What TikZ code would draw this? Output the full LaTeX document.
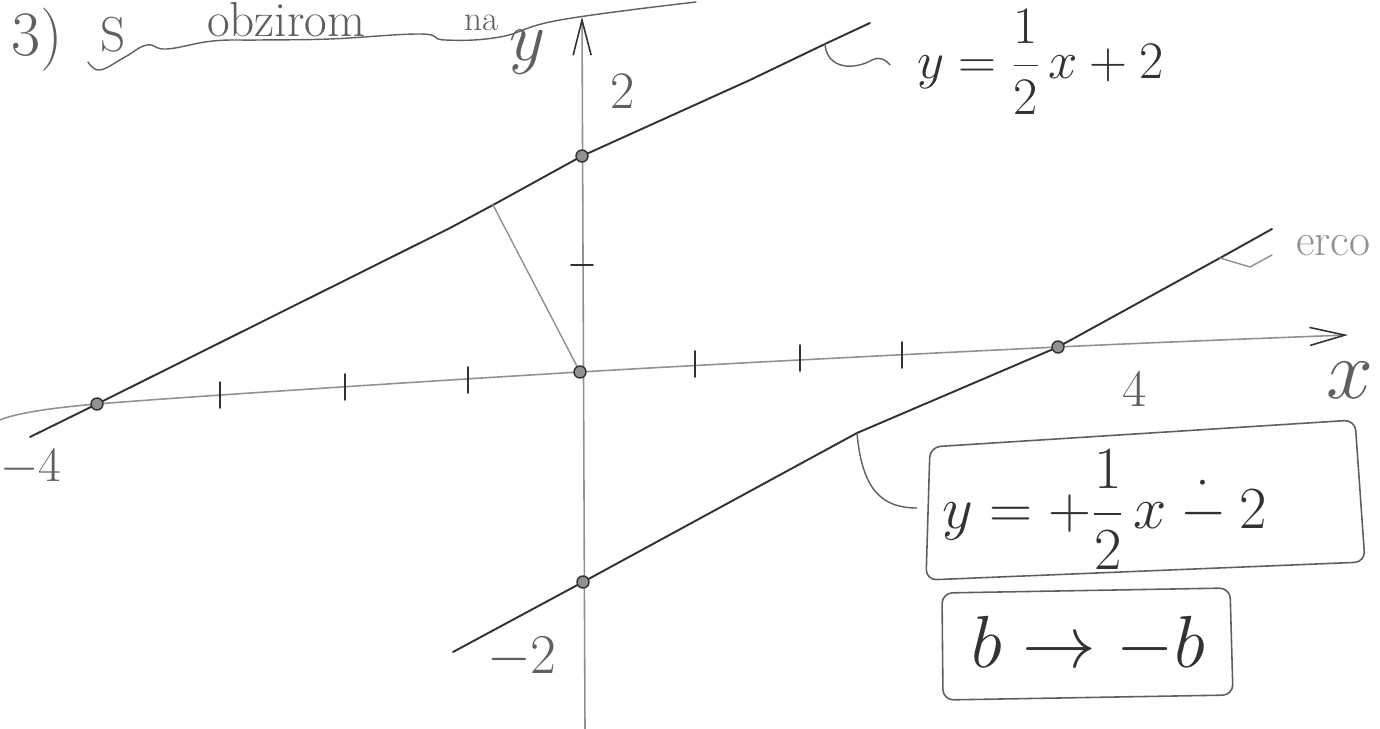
\documentclass[tikz,border=0pt]{standalone}
\usepackage{fix-cm}
\usepackage{amsmath}
\usetikzlibrary{arrows.meta}
\definecolor{inkD}{RGB}{50,50,50}
\definecolor{inkM}{RGB}{95,95,95}
\definecolor{inkL}{RGB}{145,145,145}
\newcommand{\handfs}[1]{\fontsize{#1}{#1}\selectfont}
\tikzset{
  graphline/.style={draw=inkD, line width=1.1pt, line cap=round, line join=round},
  axisline/.style={draw=inkL, line width=0.9pt, line cap=round,
    -{Straight Barb[length=7mm,width=3.6mm,color=inkD]}},
  tickmark/.style={draw=inkD, line width=1.1pt, line cap=round},
  leader/.style={draw=inkM, line width=0.8pt, line cap=round},
  dotmark/.style={circle, draw=inkD, fill=inkL, line width=0.8pt, inner sep=0pt, minimum size=2.4mm},
  handtext/.style={text=inkM, inner sep=1pt, font=\handfs{#1}},
  eqframe/.style={draw=inkM, line width=0.9pt, rounded corners=6pt},
}
\begin{document}
\begin{tikzpicture}[x=0.02cm,y=-0.02cm]
\useasboundingbox (0,0) rectangle (1380,729);

\coordinate (xL) at (0,420);
\coordinate (xR) at (1348,335);
\coordinate (yB) at (585,729);
\coordinate (yT) at (582,17);
\coordinate (origin) at (580,372);
\coordinate (xMinusFour) at (97,404);
\coordinate (xFour) at (1058,347);
\coordinate (yTwo) at (582,156);
\coordinate (yMinusTwo) at (583,582);

\coordinate (upL) at (30,437);
\coordinate (upA) at (450,228);
\coordinate (upFoot) at (493,205);
\coordinate (upB) at (750,80);
\coordinate (upLead) at (825,44);
\coordinate (upR) at (870,23);

\coordinate (lowL) at (453,652);
\coordinate (lowLead) at (857,433);
\coordinate (lowErco) at (1220,258);
\coordinate (lowR) at (1272,229);

\draw[axisline] (yB) -- (yT);
\draw[axisline] plot[smooth, tension=0.5] coordinates {(xL) (xMinusFour) (origin) (xFour) (xR)};

\foreach \tx/\ty in {220/395,345/387,468/380,695/364,800/358,902/355}
  \draw[tickmark] (\tx,\ty-13) -- (\tx,\ty+13);
\draw[tickmark] (571,265) -- (593,265);

\draw[graphline] (upL) -- (xMinusFour) -- (upA) -- (upFoot) -- (yTwo) -- (upB) -- (upLead) -- (upR);
\draw[graphline] (lowL) -- (yMinusTwo) -- (lowLead) -- (xFour) -- (lowErco) -- (lowR);
\draw[leader, draw=inkL] (upFoot) -- (origin);

\foreach \p in {xMinusFour,yTwo,origin,xFour,yMinusTwo}
  \node[dotmark] (m\p) at (\p) {};

\node[handtext=40] (yLab) at (528,52) {$y$};
\node[handtext=48] (xLab) at (1350,380) {$x$};
\node[handtext=30] (twoLab) at (623,92) {$2$};
\node[handtext=32] (minusTwoLab) at (522,658) {$-2$};
\node[handtext=28] (minusFourLab) at (31,468) {$-4$};
\node[handtext=30] (fourLab) at (1135,390) {$4$};

\node[handtext=30, anchor=west, text=inkD] (eqUp) at (915,62) {$y=\dfrac{1}{2}\,x+2$};
\coordinate (eqUpLead) at (890,65);
\draw[leader] (upLead) .. controls (827,70) and (855,70) .. (872,60)
  .. controls (880,56) and (886,60) .. (eqUpLead);

\draw[eqframe] (930,447) -- (1355,420) -- (1365,562) -- (926,580) -- cycle;
\node[handtext=34, anchor=west, text=inkD] (eqLow) at (940,510) {$y=+\dfrac{1}{2}\,x\mathbin{\dot{-}}2$};
\coordinate (eqLowLead) at (917,508);
\draw[leader] (lowLead) .. controls (862,490) and (882,508) .. (eqLowLead);

\draw[eqframe] (942,593) -- (1230,588) -- (1233,695) -- (943,700) -- cycle;
\node[handtext=42, text=inkD] (eqSign) at (1088,645) {$b\to-b$};

\coordinate (ercoDip) at (1250,267);
\coordinate (ercoLead) at (1272,255);
\draw[leader, draw=inkL] (lowErco) -- (ercoDip) -- (ercoLead);
\node[handtext=26, anchor=west, text=inkL] (erco) at (1294,246) {erco};

\node[handtext=36] (num) at (37,40) {3)};
\node[handtext=28] (sLet) at (113,35) {S};
\node[handtext=28, anchor=base west] (titleA) at (205,37) {obzirom};
\node[handtext=20, anchor=base west] (titleB) at (462,31) {na};
\draw[leader] plot[smooth, tension=0.7] coordinates {(88,62) (100,70) (125,57) (147,45) (167,49) (213,41) (260,40) (330,39) (420,34) (445,40) (500,37) (560,20) (696,2)};

\end{tikzpicture}
\end{document}
